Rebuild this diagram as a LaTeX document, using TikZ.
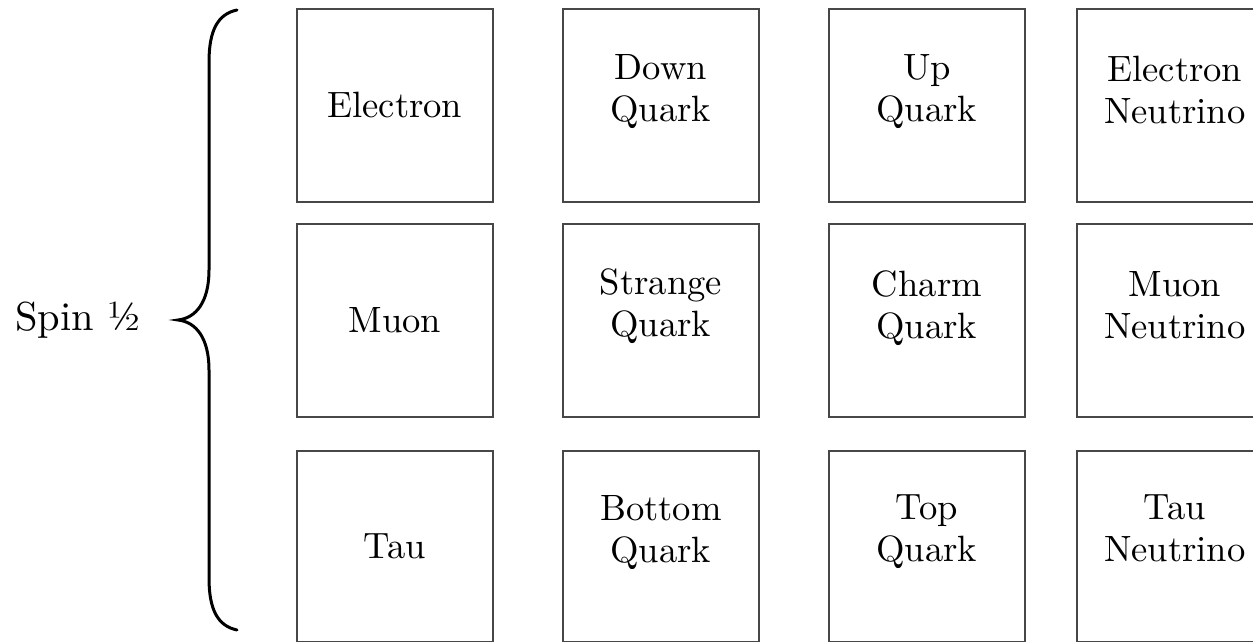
\documentclass[tikz,border=0pt]{standalone}
\usepackage{fontspec}
\newfontfamily\cellfont{lmroman10-regular.otf}
\begin{document}
\begin{tikzpicture}[x=1pt,y=1pt,
  cell/.style={draw=black!72, line width=1.8pt, rectangle, inner sep=0pt,
    minimum width=196pt, anchor=north west},
  lbl/.style={inner sep=0pt, align=center, font=\cellfont\fontsize{36.6}{42}\selectfont},
  brace/.style={line width=3pt, line cap=round, black}]
\useasboundingbox (0,0) rectangle (1253,642);
\clip (0,0) rectangle (1253,642);

% particle boxes: columns at x = 296, 562, 828, 1076; rows from the top
\foreach \c/\x in {1/296,2/562,3/828,4/1076}{
  \node[cell, minimum height=193pt] (r1c\c) at (\x,634) {};
  \node[cell, minimum height=193pt] (r2c\c) at (\x,419) {};
  \node[cell, minimum height=191pt] (r3c\c) at (\x,192) {};
}

% single-line labels, centred in their boxes
\node[lbl] (t11) at (r1c1.center) {Electron};
\node[lbl] (t21) at (r2c1.center) {Muon};
\node[lbl] (t31) at (r3c1.center) {Tau};

% two-line labels, first baseline about 70pt below the box top
\node[lbl, anchor=north] (t12) at ([yshift=-46pt]r1c2.north) {Down\\Quark};
\node[lbl, anchor=north] (t13) at ([yshift=-46pt]r1c3.north) {Up\\Quark};
\node[lbl, anchor=north] (t14) at ([yshift=-48pt]r1c4.north) {Electron\\Neutrino};
\node[lbl, anchor=north] (t22) at ([yshift=-46pt]r2c2.north) {Strange\\Quark};
\node[lbl, anchor=north] (t23) at ([yshift=-48pt]r2c3.north) {Charm\\Quark};
\node[lbl, anchor=north] (t24) at ([yshift=-48pt]r2c4.north) {Muon\\Neutrino};
\node[lbl, anchor=north] (t32) at ([yshift=-45pt]r3c2.north) {Bottom\\Quark};
\node[lbl, anchor=north] (t33) at ([yshift=-45pt]r3c3.north) {Top\\Quark};
\node[lbl, anchor=north] (t34) at ([yshift=-45pt]r3c4.north) {Tau\\Neutrino};

% curly brace spanning all three rows
\coordinate (btop) at (237,632);
\coordinate (btip) at (178,322);
\coordinate (bbot) at (237,12);
\draw[brace] (btop) .. controls (218,628) and (209,612) .. (209,580)
  -- (209,372) .. controls (209,340) and (196,324) .. (btip)
  .. controls (196,320) and (209,304) .. (209,272)
  -- (209,64) .. controls (209,32) and (218,16) .. (bbot);

\node[inner sep=0pt, anchor=base west, font=\cellfont\fontsize{40.5}{48}\selectfont]
  (spin) at (15,311) {Spin ½};
\end{tikzpicture}
\end{document}
